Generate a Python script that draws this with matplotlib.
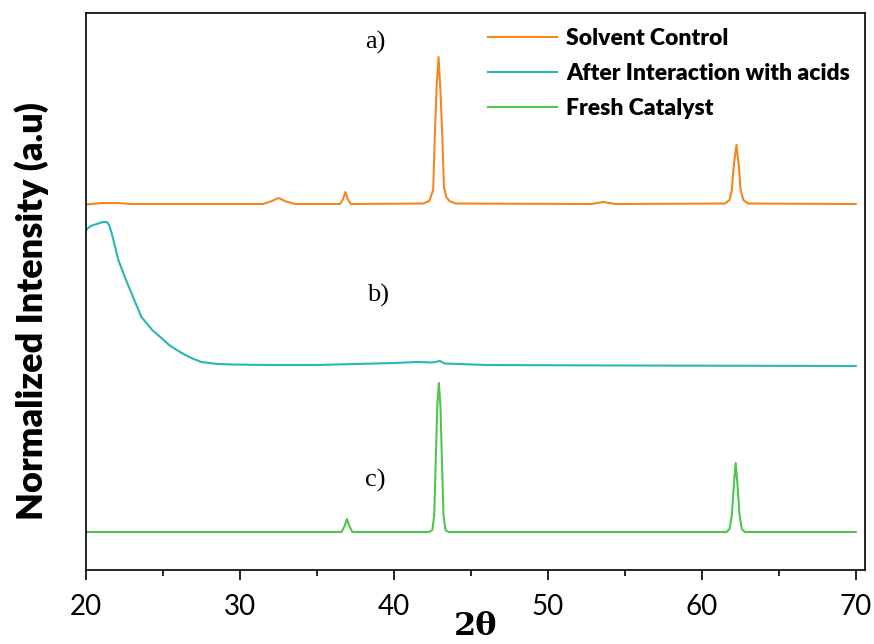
import numpy as np
import matplotlib
matplotlib.use("Agg")
from matplotlib import pyplot as plt
from matplotlib import ticker

# Hand-read XRD traces (2theta, stacked intensity in a.u.)
solvent_x = [20.0, 21.0, 22.0, 23.0, 31.5, 32.0, 32.5, 33.0, 33.6,
             36.5, 36.7, 36.85, 37.0, 37.2,
             41.9, 42.3, 42.55, 42.66, 42.78, 42.9, 43.02, 43.14, 43.25, 43.4, 43.6, 44.0,
             52.8, 53.6, 54.4,
             61.5, 61.8, 61.95, 62.08, 62.25, 62.4, 62.52, 62.7, 63.0, 70.0]
solvent_y = [365.5, 367, 367, 366, 366, 368.5, 372, 368.5, 366,
             366, 371, 378, 371, 366,
             366.5, 369, 380, 435, 485, 513, 480, 435, 383, 373, 369, 366.5,
             366, 368, 366,
             366.5, 370, 380, 405, 425, 405, 380, 370, 366.5, 366]

acid_x = [20.0, 20.3, 20.7, 21.1, 21.35, 21.5, 21.7, 22.1, 22.6, 23.0, 23.6, 24.3,
          24.9, 25.4, 26.0, 26.45, 27.0, 27.5, 28.0, 28.6, 29.5, 31.7, 35.0, 40.0,
          41.5, 42.5, 43.0, 43.3, 46.0, 55.0, 70.0]
acid_y = [340, 344, 346, 348, 348, 345, 335, 310, 290, 275, 253, 240,
          232, 225, 219, 215, 211, 208, 207, 206, 205.5, 205, 205, 207,
          208, 207.5, 209, 206.5, 205, 204.5, 204]

fresh_x = [20.0, 36.6, 36.8, 36.95, 37.1, 37.3,
           42.3, 42.5, 42.62, 42.72, 42.82, 42.92, 43.02, 43.12, 43.22, 43.35, 43.55,
           61.6, 61.8, 61.95, 62.08, 62.2, 62.32, 62.45, 62.6, 62.8, 70.0]
fresh_y = [38, 38, 44, 51, 44, 38,
           38, 40, 55, 110, 165, 187, 165, 110, 55, 40, 38,
           38, 41, 55, 85, 107, 85, 55, 41, 38, 38]

labels = ["Solvent Control", "After Interaction with acids", "Fresh Catalyst"]
colours = ["#F5861F", "#2BB5B5", "#4CC64C"]

sans = ["Lato", "DejaVu Sans"]
serif = ["Liberation Serif", "DejaVu Serif"]

fig = plt.figure(figsize=(8.74, 6.44), dpi=100)
ax = fig.add_axes([0.0984, 0.1149, 0.8913, 0.8649])

ax.plot(solvent_x, solvent_y, color=colours[0], lw=1.5, label=labels[0])
ax.plot(acid_x, acid_y, color=colours[1], lw=1.5, label=labels[1])
ax.plot(fresh_x, fresh_y, color=colours[2], lw=1.5, label=labels[2])

ax.set_xlim(20, 70.6)
ax.set_ylim(0, 557)

# Ticks: bottom only, outward
ax.xaxis.set_major_locator(ticker.MultipleLocator(10))
ax.xaxis.set_minor_locator(ticker.MultipleLocator(5))
ax.tick_params(axis="x", which="major", direction="out", length=7, width=1.2,
               labelsize=20, pad=10)
ax.tick_params(axis="x", which="minor", direction="out", length=4, width=1.2)
ax.set_yticks([])
for lbl in ax.get_xticklabels():
    lbl.set_family(sans)
for s in ax.spines.values():
    s.set_linewidth(1.2)

ax.set_xlabel("2θ", fontsize=23, fontweight="bold", family="DejaVu Serif", labelpad=-6)
ax.set_ylabel("Normalized Intensity (a.u)", fontsize=26, fontweight="heavy",
              family=sans)
ax.yaxis.set_label_coords(-0.048, 0.465)

# Curve tags
ax.text(38.8, 528, "a)", fontsize=19, family=serif, ha="center", va="center")
ax.text(39.0, 275, "b)", fontsize=19, family=serif, ha="center", va="center")
ax.text(38.8, 90, "c)", fontsize=19, family=serif, ha="center", va="center")

leg = ax.legend(loc="upper left", bbox_to_anchor=(0.49, 1.01), frameon=False,
                handlelength=3.0, handletextpad=0.4, labelspacing=0.62,
                prop={"family": sans, "weight": "heavy", "size": 16.5})

plt.savefig("out.png", dpi=100)
